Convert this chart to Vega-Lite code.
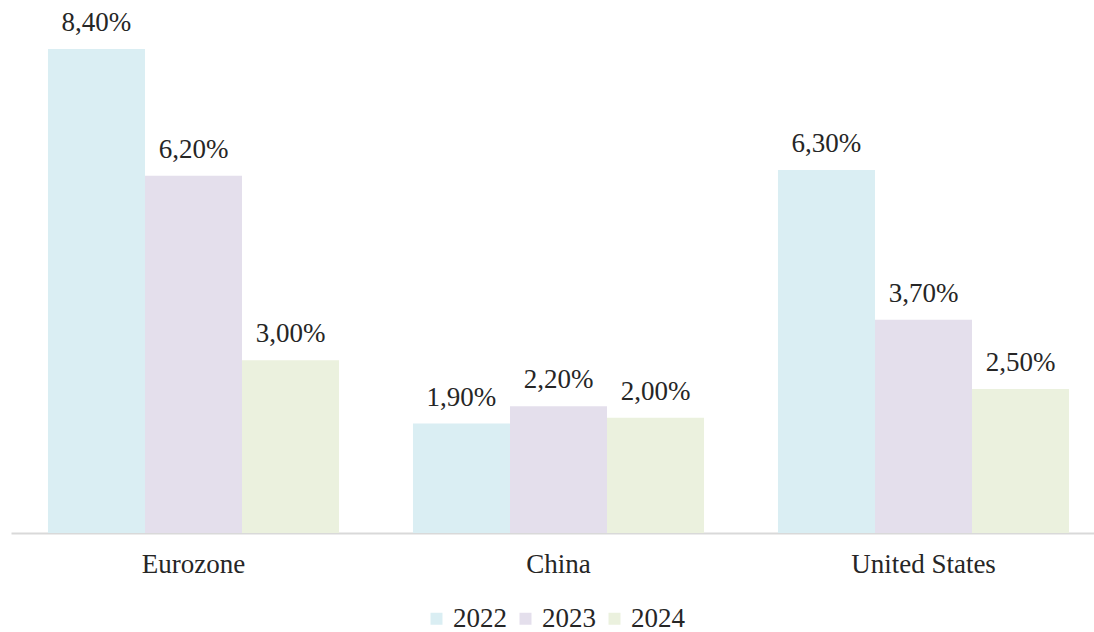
{
  "$schema": "https://vega.github.io/schema/vega-lite/v6.json",
  "width": 1083,
  "height": 533,
  "autosize": "none",
  "padding": {"left": 11, "top": 0, "right": 0, "bottom": 99},
  "config": {
    "locale": {"number": {"decimal": ",", "thousands": ".", "grouping": [3], "currency": ["", " €"]}},
    "view": {"stroke": null},
    "font": "'Liberation Serif', 'Times New Roman', serif"
  },
  "data": {
    "values": [
      {"region": "Eurozone", "year": "2022", "value": 0.084},
      {"region": "Eurozone", "year": "2023", "value": 0.062},
      {"region": "Eurozone", "year": "2024", "value": 0.030},
      {"region": "China", "year": "2022", "value": 0.019},
      {"region": "China", "year": "2023", "value": 0.022},
      {"region": "China", "year": "2024", "value": 0.020},
      {"region": "United States", "year": "2022", "value": 0.063},
      {"region": "United States", "year": "2023", "value": 0.037},
      {"region": "United States", "year": "2024", "value": 0.025}
    ]
  },
  "encoding": {
    "x": {
      "field": "region", "type": "nominal", "sort": ["Eurozone", "China", "United States"],
      "scale": {"range": [0, 1095], "paddingInner": 0, "paddingOuter": 0},
      "axis": {"title": null, "labelAngle": 0, "ticks": false, "domainColor": "#d9d9d9", "domainWidth": 2,
               "labelFontSize": 27, "labelColor": "#262626", "labelPadding": 18, "labelFont": "'Liberation Serif', 'Times New Roman', serif"}
    },
    "xOffset": {"field": "year", "type": "nominal", "scale": {"paddingInner": 0, "paddingOuter": 0.381}},
    "y": {
      "field": "value", "type": "quantitative",
      "scale": {"domain": [0, 0.0925], "nice": false, "zero": true},
      "axis": null
    }
  },
  "layer": [
    {
      "mark": {"type": "bar"},
      "encoding": {
        "color": {
          "field": "year", "type": "nominal",
          "scale": {"domain": ["2022", "2023", "2024"], "range": ["#DAEEF3", "#E4DFEC", "#EBF1DE"]},
          "legend": {"title": null, "orient": "none", "legendX": 412, "legendY": 605, "direction": "horizontal", "symbolType": "square",
                     "symbolSize": 144, "labelFontSize": 27, "labelColor": "#262626", "labelFont": "'Liberation Serif', 'Times New Roman', serif",
                     "columnPadding": 5, "labelOffset": 3, "symbolStrokeWidth": 0}
        }
      }
    },
    {
      "mark": {"type": "text", "baseline": "bottom", "dy": -12, "fontSize": 27, "color": "#262626", "font": "'Liberation Serif', 'Times New Roman', serif"},
      "encoding": {
        "text": {"field": "value", "type": "quantitative", "format": ".2%"}
      }
    }
  ]
}
